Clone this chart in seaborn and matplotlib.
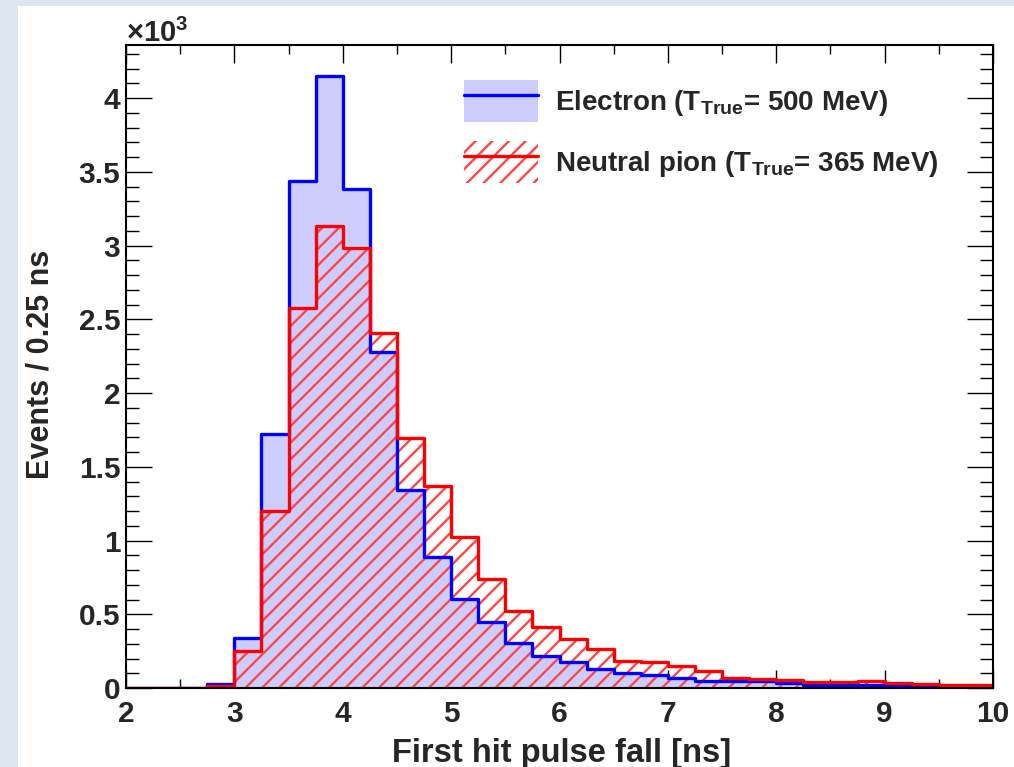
import numpy as np
import pandas as pd
import matplotlib
matplotlib.use("Agg")
import matplotlib.pyplot as plt
import seaborn as sns
from matplotlib.patches import Patch, Rectangle
from matplotlib.lines import Line2D
from matplotlib.ticker import MultipleLocator, FuncFormatter

# ── data: events per 0.25 ns bin, 2 -> 10 ns ─────────────────
bin_width = 0.25
bin_range = (2.0, 10.0)
bin_centers = np.arange(2.0, 10.0, bin_width) + bin_width / 2

electron_counts = [
    0, 0, 0, 25, 340, 1720, 3440, 4150,
    3385, 2280, 1345, 885, 605, 445, 305, 220,
    175, 130, 100, 90, 66, 45, 45, 48,
    36, 18, 17, 20, 13, 8, 5, 5,
]
pion_counts = [
    0, 0, 0, 12, 250, 1200, 2580, 3130,
    2985, 2410, 1697, 1372, 1026, 737, 524, 416,
    330, 264, 185, 176, 150, 112, 66, 59,
    52, 43, 38, 45, 36, 25, 18, 18,
]

electron_label = r"Electron (T$_{\rm True}$= 500 MeV)"
pion_label = r"Neutral pion (T$_{\rm True}$= 365 MeV)"

df_e = pd.DataFrame({"fall": bin_centers, "n": electron_counts})
df_p = pd.DataFrame({"fall": bin_centers, "n": pion_counts})

# ── style ────────────────────────────────────────────────────
sns.set_style("ticks")
plt.rcParams["font.family"] = ["Liberation Sans", "DejaVu Sans"]
plt.rcParams["font.weight"] = "bold"
plt.rcParams["axes.labelweight"] = "bold"
plt.rcParams["mathtext.fontset"] = "custom"
plt.rcParams["mathtext.rm"] = "Liberation Sans:bold"
plt.rcParams["mathtext.bf"] = "Liberation Sans:bold"
plt.rcParams["hatch.linewidth"] = 1.7
plt.rcParams["hatch.color"] = "#ff4646"

blue_fill = "#ccccff"
blue_line = "#0000ff"
red_line = "#ff0000"
red_hatch = "#ff4646"

fig = plt.figure(figsize=(10.14, 7.67), dpi=100)
fig.patch.set_facecolor("#dde5ef")
fig.add_artist(Rectangle((18 / 1014, 0), 1, (767 - 6) / 767,
                         transform=fig.transFigure, facecolor="white",
                         edgecolor="none", zorder=-1))
ax = fig.add_axes([126 / 1014, 79 / 767, 867 / 1014, 643 / 767])

hist_kw = dict(x="fall", weights="n", binwidth=bin_width,
               binrange=bin_range, element="step", ax=ax)

# electron: filled + outline
sns.histplot(data=df_e, fill=True, facecolor=blue_fill,
             edgecolor="none", linewidth=0, alpha=1, **hist_kw)
sns.histplot(data=df_e, fill=False, color=blue_line, linewidth=2.4,
             **hist_kw)

# neutral pion: hatched + outline
sns.histplot(data=df_p, fill=True, facecolor=(1, 1, 1, 0),
             edgecolor=red_hatch, linewidth=0, hatch="//", **hist_kw)
sns.histplot(data=df_p, fill=False, color=red_line, linewidth=2.4,
             **hist_kw)

ax.set_xlim(2, 10)
ax.set_ylim(0, 4360)

ax.xaxis.set_major_locator(MultipleLocator(1))
ax.xaxis.set_minor_locator(MultipleLocator(0.5))
ax.yaxis.set_major_locator(MultipleLocator(500))
ax.yaxis.set_minor_locator(MultipleLocator(100))
ax.yaxis.set_major_formatter(FuncFormatter(lambda v, _: f"{v / 1000:g}"))

ax.tick_params(which="both", direction="in", top=True, right=True,
               width=1.0, color="black", labelsize=21.5)
ax.tick_params(axis="x", which="major", length=13, pad=9)
ax.tick_params(axis="x", which="minor", length=6.5)
ax.tick_params(axis="y", which="major", length=19, pad=4)
ax.tick_params(axis="y", which="minor", length=9.5)
for s in ax.spines.values():
    s.set_linewidth(1.5)
    s.set_color("black")

ax.set_xlabel("First hit pulse fall [ns]", fontsize=23.5, va="top")
ax.xaxis.set_label_coords(0.503, -0.077)
ax.set_ylabel("Events / 0.25 ns", fontsize=22, va="center")
ax.yaxis.set_label_coords(-0.099, 0.503)

ax.text(0.0, 1.005, "×10$^{3}$", transform=ax.transAxes,
        ha="left", va="baseline", fontsize=21)

handles = [
    (Patch(facecolor=blue_fill, edgecolor="none"),
     Line2D([], [], color=blue_line, linewidth=2.4)),
    (Patch(facecolor="white", edgecolor=red_hatch, linewidth=0, hatch="//"),
     Line2D([], [], color=red_line, linewidth=2.4)),
]
ax.legend(handles, [electron_label, pion_label], loc="upper left",
          bbox_to_anchor=(0.39, 0.9456), frameon=False, fontsize=20,
          handlelength=2.66, handleheight=1.95, handletextpad=0.6,
          labelspacing=0.68, borderpad=0, borderaxespad=0)

fig.savefig("out.png", dpi=100, facecolor=fig.get_facecolor())
